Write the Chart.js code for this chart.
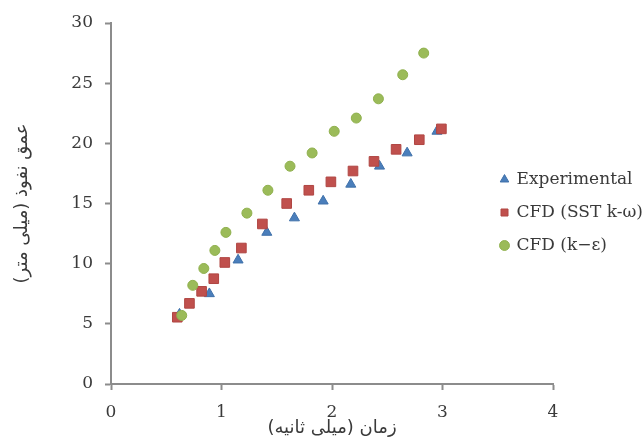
<!DOCTYPE html>
<html>
<head>
<meta charset="utf-8">
<script src="https://cdn.jsdelivr.net/npm/chart.js@4/dist/chart.umd.min.js"></script>
<style>
  html, body { margin: 0; padding: 0; background: #ffffff; }
  #wrap { width: 644px; height: 446px; }
</style>
</head>
<body>
<div id="wrap"><canvas id="chart" width="644" height="446"></canvas></div>
<script>
// Penetration depth (mm) against time (ms)
const expTime   = [0.62, 0.89, 1.15, 1.41, 1.66, 1.92, 2.17, 2.43, 2.68, 2.95];
const expDepth  = [5.8, 7.5, 10.3, 12.6, 13.8, 15.2, 16.6, 18.1, 19.2, 21.0];

const sstTime   = [0.60, 0.71, 0.82, 0.93, 1.03, 1.18, 1.37, 1.59, 1.79, 1.99, 2.19, 2.38, 2.58, 2.79, 2.99];
const sstDepth  = [5.55, 6.7, 7.7, 8.75, 10.1, 11.3, 13.3, 15.0, 16.1, 16.8, 17.7, 18.5, 19.5, 20.3, 21.2];

const keTime    = [0.64, 0.74, 0.84, 0.94, 1.04, 1.23, 1.42, 1.62, 1.82, 2.02, 2.22, 2.42, 2.64, 2.83];
const keDepth   = [5.7, 8.2, 9.6, 11.1, 12.6, 14.2, 16.1, 18.1, 19.2, 21.0, 22.1, 23.7, 25.7, 27.5];

const seriesNames = ['Experimental', 'CFD (SST k-ω)', 'CFD (k−ε)'];
const xTitle = '\u202Bزمان (میلی ثانیه)\u202C';
const yTitle = '\u202Bعمق نفوذ (میلی متر)\u202C';

const toPoints = (xs, ys) => xs.map((x, i) => ({ x: x, y: ys[i] }));

const axisGrey = '#8c8c8c';
const textGrey = '#3a3a3a';

// Place the legend box over the right part of the plot
const legendSpot = {
  id: 'legendSpot',
  afterLayout(chart) {
    const lg = chart.legend;
    if (!lg) return;
    const w = lg.width, h = lg.height;
    lg.left = 485; lg.right = 485 + w;
    lg.top = 155; lg.bottom = 155 + h;
  }
};

new Chart(document.getElementById('chart'), {
  type: 'scatter',
  data: {
    datasets: [
      {
        label: seriesNames[0],
        data: toPoints(expTime, expDepth),
        pointStyle: 'triangle',
        pointRadius: 5.8,
        backgroundColor: '#4a7ebb',
        borderColor: '#3f70a9',
        borderWidth: 1,
        order: 3
      },
      {
        label: seriesNames[1],
        data: toPoints(sstTime, sstDepth),
        pointStyle: 'rect',
        pointRadius: 6.8,
        backgroundColor: '#c0504d',
        borderColor: '#b04643',
        borderWidth: 1,
        order: 2
      },
      {
        label: seriesNames[2],
        data: toPoints(keTime, keDepth),
        pointStyle: 'circle',
        pointRadius: 5,
        backgroundColor: '#9bbb59',
        borderColor: '#8fb04d',
        borderWidth: 1,
        order: 1
      }
    ]
  },
  options: {
    responsive: false,
    devicePixelRatio: 1,
    animation: false,
    events: [],
    layout: { padding: { left: 0, right: 91, top: 23, bottom: 0 } },
    plugins: {
      tooltip: { enabled: false },
      legend: {
        position: 'chartArea',
        align: 'start',
        labels: {
          usePointStyle: true,
          boxWidth: 7,
          boxHeight: 7,
          padding: 16,
          color: textGrey,
          sort: (a, b) => a.datasetIndex - b.datasetIndex,
          font: { family: 'DejaVu Serif', size: 17 }
        }
      }
    },
    scales: {
      x: {
        type: 'linear',
        min: 0, max: 4,
        afterFit(scale) { scale.height = 62; },
        border: { display: true, color: axisGrey, width: 2 },
        grid: { drawOnChartArea: false, drawTicks: true, tickLength: 6, tickColor: axisGrey, tickWidth: 2 },
        ticks: {
          stepSize: 1,
          padding: 12,
          color: textGrey,
          font: { family: 'DejaVu Serif', size: 17 }
        },
        title: {
          display: true,
          text: xTitle,
          color: textGrey,
          padding: { top: 0, bottom: 7 },
          font: { family: 'DejaVu Sans', size: 18 }
        }
      },
      y: {
        type: 'linear',
        min: 0, max: 30,
        afterFit(scale) { scale.width = 111; },
        border: { display: true, color: axisGrey, width: 2 },
        grid: { drawOnChartArea: false, drawTicks: true, tickLength: 6, tickColor: axisGrey, tickWidth: 2 },
        ticks: {
          stepSize: 5,
          padding: 12,
          color: textGrey,
          font: { family: 'DejaVu Serif', size: 17 }
        },
        title: {
          display: true,
          text: yTitle,
          color: textGrey,
          padding: { top: 12, bottom: 0 },
          font: { family: 'DejaVu Sans', size: 18 }
        }
      }
    }
  },
  plugins: [legendSpot]
});
</script>
</body>
</html>
